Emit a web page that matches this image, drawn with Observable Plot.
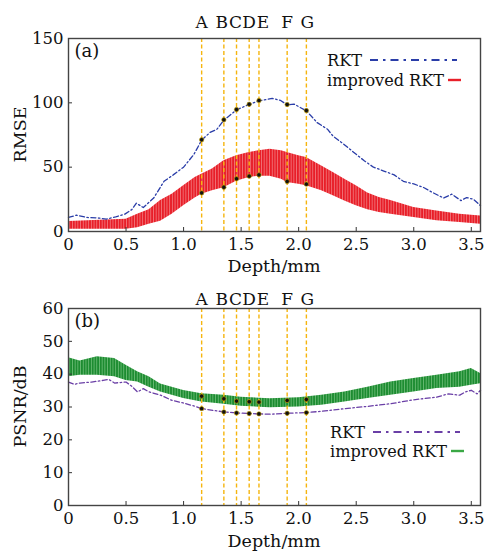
<!DOCTYPE html>
<html><head><meta charset="utf-8">
<script src="https://cdn.jsdelivr.net/npm/d3@7"></script>
<script src="https://cdn.jsdelivr.net/npm/@observablehq/plot@0.6"></script>
<style>
body{margin:0;background:#fff;}
#chart{width:503px;}
#chart svg{display:block;}
</style></head><body>
<svg width="0" height="0" style="position:absolute">
<defs>
<pattern id="stripeRed" width="2.7" height="10" patternUnits="userSpaceOnUse"><rect width="2.7" height="10" fill="#f38a8e"/><rect width="2.0" height="10" fill="#e81e28"/></pattern>
<pattern id="stripeGreen" width="2.7" height="10" patternUnits="userSpaceOnUse"><rect width="2.7" height="10" fill="#7cc684"/><rect width="2.0" height="10" fill="#1d8c31"/></pattern>
</defs></svg>
<div id="chart"></div>
<script>
// ---- data ----
const rktDepthA = [0,0.07,0.16,0.25,0.33,0.41,0.49,0.55,0.59,0.65,0.74,0.83,0.91,1.0,1.09,1.157,1.23,1.29,1.35,1.46,1.57,1.655,1.77,1.84,1.9,1.96,2.067,2.16,2.25,2.3,2.39,2.48,2.57,2.65,2.74,2.83,2.91,3.0,3.09,3.17,3.26,3.33,3.41,3.46,3.52,3.58];
const rmseRKT = [10.9,12.7,10.9,10.6,9.6,11.4,13.5,17,22,18.6,26,39,44,50,60,71,77,79.5,86.5,94.6,98.7,101.6,103.4,102,98.4,99,93.8,84.7,79.5,74,68,61.4,55,50,47,44,39,37,34,30,26,29,24,26.4,25,20];

const bandDepthA = [0,0.5,0.6,0.7,0.8,0.9,1.0,1.1,1.157,1.25,1.35,1.46,1.57,1.655,1.75,1.85,1.9,2.0,2.067,2.2,2.3,2.4,2.5,2.6,2.7,2.8,3.0,3.2,3.4,3.58];
const rmseImpUpper = [7.8,9.6,13.5,17,24,29,35.5,42,44.5,48.5,55,58.8,61.4,62.7,64,62.7,61.4,58.8,57.5,51,45.9,40.7,35.5,30,26.4,24,18.6,16,13.5,12];
const rmseImpLower = [1.8,1.8,3,5.7,8,13.5,20,26,29,31.6,34,39,42,43,43,40.7,38,36.8,35.5,31.6,27.7,23.8,20,17,14.8,13.5,10.9,8.3,7,5.7];

const rktDepthB = [0,0.05,0.1,0.2,0.3,0.35,0.4,0.5,0.55,0.6,0.65,0.7,0.8,0.9,1.0,1.1,1.157,1.35,1.46,1.57,1.655,1.75,1.9,2.067,2.2,2.4,2.6,2.8,3.0,3.2,3.3,3.4,3.45,3.5,3.55,3.58];
const psnrRKT = [37.6,36.9,37.3,37.6,38.1,38.4,37.3,37.6,36.3,34.6,35.6,34.6,33.6,32,31.2,30.2,29.5,28.5,28.2,28,27.9,27.8,28.1,28.3,28.7,29.5,30.2,31,32.2,33,34,33.6,34.6,35.1,34,35.1];

const bandDepthB = [0,0.1,0.25,0.4,0.5,0.6,0.7,0.8,0.9,1.0,1.157,1.35,1.5,1.75,2.0,2.2,2.4,2.6,2.8,3.0,3.2,3.4,3.5,3.58];
const psnrImpUpper = [45,44,45.3,44.8,42.7,40.7,39.2,37,36,35,34,33.6,33,32.5,32.8,33.6,34.6,36,37.6,38.7,39.7,40.7,41.7,40.2];
const psnrImpLower = [39.2,39.7,39.7,39.2,38.1,37.6,36,34.6,33.6,32.6,31.5,30.8,30.2,29.8,30,30.5,31.5,32.6,33.6,34.6,35.6,36,36.6,37.1];

const markerDepth = [1.157,1.35,1.46,1.57,1.655,1.90,2.067];
const markerLabels = ["A","B","C","D","E","F","G"];
const rmseRktAt = [71.3,86.8,94.8,98.9,101.8,98.7,94];
const rmseImpAt = [30,34.4,41,43,44,38.9,36.8];
const psnrRktAt = [29.5,28.5,28.2,28,27.9,28.1,28.3];
const psnrImpAt = [33.3,32.5,31.8,31.6,31.5,32,32.3];

const xTicks = [0,0.5,1.0,1.5,2.0,2.5,3.0,3.5];
const yTicksA = [0,50,100,150];
const yTicksB = [0,10,20,30,40,50,60];

// ---- helpers ----
const FONT = "DejaVu Serif";
const W = 503, ML = 68, MR = 23;
const labelNudge = [0, -2, -1, 0, 4, 0, 1]; // text nudges so BCDE do not collide
const zip = (xs, ys) => xs.map((x, i) => ({x, y: ys[i]}));
const band = (xs, lo, hi) => xs.map((x, i) => ({x, y1: lo[i], y2: hi[i]}));
const fmtX = d => d === 0 ? "0" : d.toFixed(1);

function panel({height, mt, mb, yDomain, yTicks, rkt, bandData, bandFill, rktColor, dotsRkt, dotsImp, tag, yTitle, leg, legImp, letterDy}) {
  const ph = height - mt - mb, pw = W - ML - MR;
  const markers = markerDepth.map((x, i) => ({x, label: markerLabels[i], i}));
  const svg = Plot.plot({
    width: W, height, marginTop: mt, marginBottom: mb, marginLeft: ML, marginRight: MR,
    style: {fontFamily: FONT, fontSize: "16.5px", color: "#111", background: "#fff", overflow: "visible"},
    x: {domain: [0, 3.58], ticks: xTicks, tickFormat: fmtX, tickSize: 0, tickPadding: 7, label: null},
    y: {domain: yDomain, ticks: yTicks, tickSize: 0, tickPadding: 5, label: null},
    marks: [
      Plot.areaY(bandData, {x: "x", y1: "y1", y2: "y2", fill: bandFill, curve: "linear"}),
      Plot.line(rkt, {x: "x", y: "y", stroke: rktColor, strokeWidth: 1.3, strokeDasharray: "5,2.5,1.5,2.5"}),
      Plot.ruleX(markers, {x: "x", stroke: "#f5b50f", strokeWidth: 1.4, strokeDasharray: "4,2.5"}),
      Plot.dot(zip(markerDepth, dotsRkt), {x: "x", y: "y", r: 2.2, fill: "#111", stroke: "#c9a400", strokeWidth: 0.6}),
      Plot.dot(zip(markerDepth, dotsImp), {x: "x", y: "y", r: 2.2, fill: "#111", stroke: "#c9a400", strokeWidth: 0.6}),
      ...markers.map(m => Plot.text([m], {x: "x", text: "label", frameAnchor: "top", lineAnchor: "bottom", dy: letterDy, dx: labelNudge[m.i], fontSize: 17, fill: "#111"})),
      Plot.ruleX(xTicks, {x: d => d, stroke: "#333", strokeWidth: 1, insetTop: ph - 4}),
      Plot.ruleY(yTicks, {y: d => d, stroke: "#333", strokeWidth: 1, insetRight: pw - 4}),
      Plot.frame({stroke: "#444", strokeWidth: 1.4}),
      Plot.text([tag], {frameAnchor: "top-left", lineAnchor: "top", dx: 6, dy: 6, fontSize: 18, fill: "#111", textAnchor: "start"})
    ]
  });
  const s = d3.select(svg);
  // axis titles
  s.append("text").attr("x", ML + pw / 2).attr("y", height - 8)
    .attr("text-anchor", "middle").attr("font-size", 17.5).attr("fill", "#111").text("Depth/mm");
  s.append("text").attr("transform", `translate(26,${mt + ph / 2}) rotate(-90)`)
    .attr("text-anchor", "middle").attr("font-size", 17.5).attr("fill", "#111").text(yTitle);
  // legend
  const lg = s.append("g").attr("font-size", 17).attr("fill", "#111").attr("text-anchor", "start");
  lg.append("text").attr("x", leg.x).attr("y", leg.y1).attr("textLength", 35).attr("lengthAdjust", "spacingAndGlyphs").text("RKT");
  lg.append("line").attr("x1", leg.x + 43).attr("x2", leg.x + 130)
    .attr("y1", leg.y1 - 6).attr("y2", leg.y1 - 6)
    .attr("stroke", rktColor).attr("stroke-width", 2.2).attr("stroke-dasharray", "8,5,2.5,5");
  lg.append("text").attr("x", leg.x).attr("y", leg.y2).attr("textLength", 117).attr("lengthAdjust", "spacingAndGlyphs").text("improved RKT");
  lg.append("line").attr("x1", leg.x + 121).attr("x2", leg.x + 134)
    .attr("y1", leg.y2 - 6).attr("y2", leg.y2 - 6)
    .attr("stroke", legImp).attr("stroke-width", 2.4);
  return svg;
}

const chart = document.getElementById("chart");
chart.append(panel({
  height: 280, mt: 38, mb: 49, yDomain: [0, 150], yTicks: yTicksA,
  rkt: zip(rktDepthA, rmseRKT), bandData: band(bandDepthA, rmseImpLower, rmseImpUpper),
  bandFill: "url(#stripeRed)", rktColor: "#2a3da8", dotsRkt: rmseRktAt, dotsImp: rmseImpAt,
  tag: "(a)", yTitle: "RMSE", leg: {x: 327, y1: 66, y2: 86}, legImp: "#e8202a", letterDy: -11
}));
chart.append(panel({
  height: 275, mt: 28, mb: 50, yDomain: [0, 60], yTicks: yTicksB,
  rkt: zip(rktDepthB, psnrRKT), bandData: band(bandDepthB, psnrImpLower, psnrImpUpper),
  bandFill: "url(#stripeGreen)", rktColor: "#6a3fa6", dotsRkt: psnrRktAt, dotsImp: psnrImpAt,
  tag: "(b)", yTitle: "PSNR/dB", leg: {x: 330, y1: 158, y2: 177}, legImp: "#3aa845", letterDy: -4
}));
</script>
</body></html>
